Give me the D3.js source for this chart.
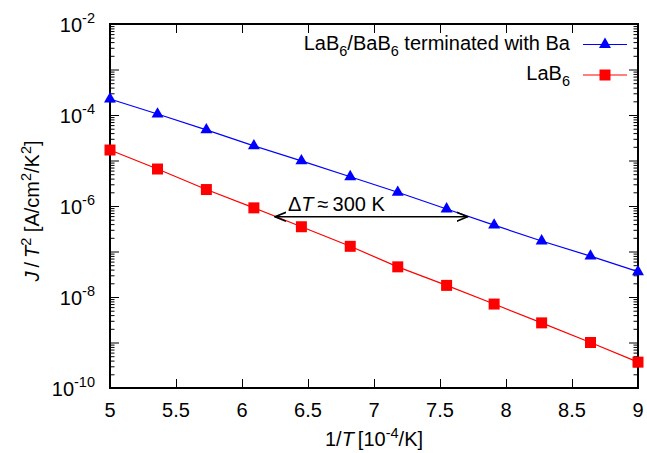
<!DOCTYPE html>
<html lang="en">
<head>
<meta charset="utf-8" />
<title>LaB6 emission</title>
<script src="https://d3js.org/d3.v7.min.js"></script>
<style>
  body { margin: 0; background: #fff; }
  svg { font-family: "Liberation Sans", Arial, sans-serif; }
  .domain { display: none; }
</style>
</head>
<body>
<script>
// data
const invT = [5.00, 5.36, 5.73, 6.09, 6.45, 6.82, 7.18, 7.55, 7.91, 8.27, 8.64, 9.00];
const baTerminated = [2.25e-4, 1.05e-4, 4.7e-5, 2.1e-5, 9.8e-6, 4.4e-6, 2.0e-6, 8.6e-7, 3.8e-7, 1.7e-7, 7.9e-8, 3.6e-8];
const lab6 = [1.7e-5, 6.5e-6, 2.3e-6, 9.1e-7, 3.5e-7, 1.3e-7, 4.6e-8, 1.8e-8, 7.0e-9, 2.7e-9, 1.0e-9, 3.7e-10];
const xTicks = [5, 5.5, 6, 6.5, 7, 7.5, 8, 8.5, 9];
const yLabelExps = [-2, -4, -6, -8, -10];
const arrowX = [6.25, 7.71];
const arrowY = 5.8e-7;

const width = 647, height = 453;
const m = {left: 110, right: 9, top: 24, bottom: 65};
const fs = 20, fsSmall = 14.5;

const svg = d3.select("body").append("svg")
    .attr("width", width).attr("height", height);

const x = d3.scaleLinear().domain([5, 9]).range([m.left, width - m.right]);
const y = d3.scaleLog().domain([1e-10, 1e-2]).range([height - m.bottom, m.top]);

// minor + major y ticks
const majorY = d3.range(-10, -1).map(e => Math.pow(10, e));
const minorY = [];
for (let e = -10; e < -2; e++) for (let k = 2; k <= 9; k++) minorY.push(k * Math.pow(10, e));

function drawYTicks(vals, len) {
  svg.append("g").attr("transform", `translate(${m.left},0)`)
    .call(d3.axisLeft(y).tickValues(vals).tickSize(-len).tickFormat(""));
  svg.append("g").attr("transform", `translate(${width - m.right},0)`)
    .call(d3.axisRight(y).tickValues(vals).tickSize(-len).tickFormat(""));
}
drawYTicks(majorY, 9);
drawYTicks(minorY, 4.5);

svg.append("g").attr("transform", `translate(0,${height - m.bottom})`)
  .call(d3.axisBottom(x).tickValues(xTicks).tickSize(-9).tickFormat(""));
svg.append("g").attr("transform", `translate(0,${m.top})`)
  .call(d3.axisTop(x).tickValues(xTicks).tickSize(-9).tickFormat(""));
svg.selectAll(".tick line").attr("stroke", "#000").attr("stroke-width", 1);

// frame
svg.append("rect")
  .attr("x", m.left).attr("y", m.top)
  .attr("width", width - m.left - m.right).attr("height", height - m.top - m.bottom)
  .attr("fill", "none").attr("stroke", "#000").attr("stroke-width", 2);

// tick labels
svg.append("g").selectAll("text").data(xTicks).join("text")
  .attr("x", d => x(d)).attr("y", height - m.bottom + 29)
  .attr("text-anchor", "middle").attr("font-size", fs)
  .text(d => d);

const yl = svg.append("g").selectAll("text").data(yLabelExps).join("text")
  .attr("x", m.left - 15).attr("y", d => y(Math.pow(10, d)) + 8)
  .attr("text-anchor", "end").attr("font-size", fs);
yl.append("tspan").text("10");
yl.append("tspan").attr("dy", -9).attr("font-size", fsSmall).text(d => "-" + (-d));

// axis titles
const xt = svg.append("text")
  .attr("x", 374).attr("y", 446)
  .attr("text-anchor", "middle").attr("font-size", fs);
xt.append("tspan").text("1/");
xt.append("tspan").attr("font-style", "italic").text("T");
xt.append("tspan").text("\u2009[10");
xt.append("tspan").attr("dy", -8).attr("font-size", fsSmall).text("-4");
xt.append("tspan").attr("dy", 8).text("/K]");

const yt = svg.append("text")
  .attr("transform", "translate(39,211) rotate(-90)")
  .attr("text-anchor", "middle").attr("font-size", fs);
yt.append("tspan").attr("font-style", "italic").text("J");
yt.append("tspan").text("\u2009/\u2009");
yt.append("tspan").attr("font-style", "italic").text("T");
yt.append("tspan").attr("dy", -8).attr("font-size", fsSmall).text("2");
yt.append("tspan").attr("dy", 8).text(" [A/cm");
yt.append("tspan").attr("dy", -8).attr("font-size", fsSmall).text("2");
yt.append("tspan").attr("dy", 8).text("/K");
yt.append("tspan").attr("dy", -8).attr("font-size", fsSmall).text("2");
yt.append("tspan").attr("dy", 8).text("]");

// series
const series = [
  {vals: baTerminated, color: "#0000ff", sym: d3.symbolTriangle, size: 62},
  {vals: lab6, color: "#ff0000", sym: d3.symbolSquare, size: 121}
];
const line = d3.line().x(d => x(d[0])).y(d => y(d[1]));
series.forEach(s => {
  const pts = invT.map((v, i) => [v, s.vals[i]]);
  svg.append("path").datum(pts).attr("d", line)
    .attr("fill", "none").attr("stroke", s.color).attr("stroke-width", 1.2);
  svg.append("g").selectAll("path").data(pts).join("path")
    .attr("transform", d => `translate(${x(d[0])},${y(d[1])})`)
    .attr("d", d3.symbol(s.sym, s.size)).attr("fill", s.color);
});

// legend
const legendRows = [
  {y: 44.5, color: "#0000ff", sym: d3.symbolTriangle, size: 62, parts: [["LaB", 0], ["6", 1], ["/BaB", 0], ["6", 1], [" terminated with Ba", 0]]},
  {y: 75, color: "#ff0000", sym: d3.symbolSquare, size: 121, parts: [["LaB", 0], ["6", 1]]}
];
legendRows.forEach(r => {
  const t = svg.append("text").attr("x", 570).attr("y", r.y + 5)
    .attr("text-anchor", "end").attr("font-size", fs);
  let sub = 0;
  r.parts.forEach(p => {
    const dy = (p[1] - sub) * 6;
    sub = p[1];
    t.append("tspan").attr("dy", dy).attr("font-size", p[1] ? fsSmall : fs).text(p[0]);
  });
  svg.append("line").attr("x1", 583).attr("x2", 627).attr("y1", r.y).attr("y2", r.y)
    .attr("stroke", r.color).attr("stroke-width", 1.2);
  svg.append("path").attr("transform", `translate(605,${r.y})`)
    .attr("d", d3.symbol(r.sym, r.size)).attr("fill", r.color);
});

// double arrow for temperature difference
const defs = svg.append("defs");
defs.append("marker").attr("id", "ah").attr("viewBox", "0 0 12 12")
  .attr("refX", 11).attr("refY", 6).attr("markerWidth", 12).attr("markerHeight", 12)
  .attr("markerUnits", "userSpaceOnUse").attr("orient", "auto-start-reverse")
  .append("path").attr("d", "M0,1.5 L11,6 L0,10.5").attr("fill", "none").attr("stroke", "#000").attr("stroke-width", 1.6);
svg.append("line")
  .attr("x1", x(arrowX[0])).attr("x2", x(arrowX[1]))
  .attr("y1", y(arrowY)).attr("y2", y(arrowY))
  .attr("stroke", "#000").attr("stroke-width", 1.6)
  .attr("marker-start", "url(#ah)").attr("marker-end", "url(#ah)");
const at = svg.append("text").attr("x", 288).attr("y", y(arrowY) - 6).attr("font-size", fs);
at.append("tspan").text("Δ");
at.append("tspan").attr("font-style", "italic").text("T");
at.append("tspan").text("\u2009≈\u2009300 K");
</script>
</body>
</html>
